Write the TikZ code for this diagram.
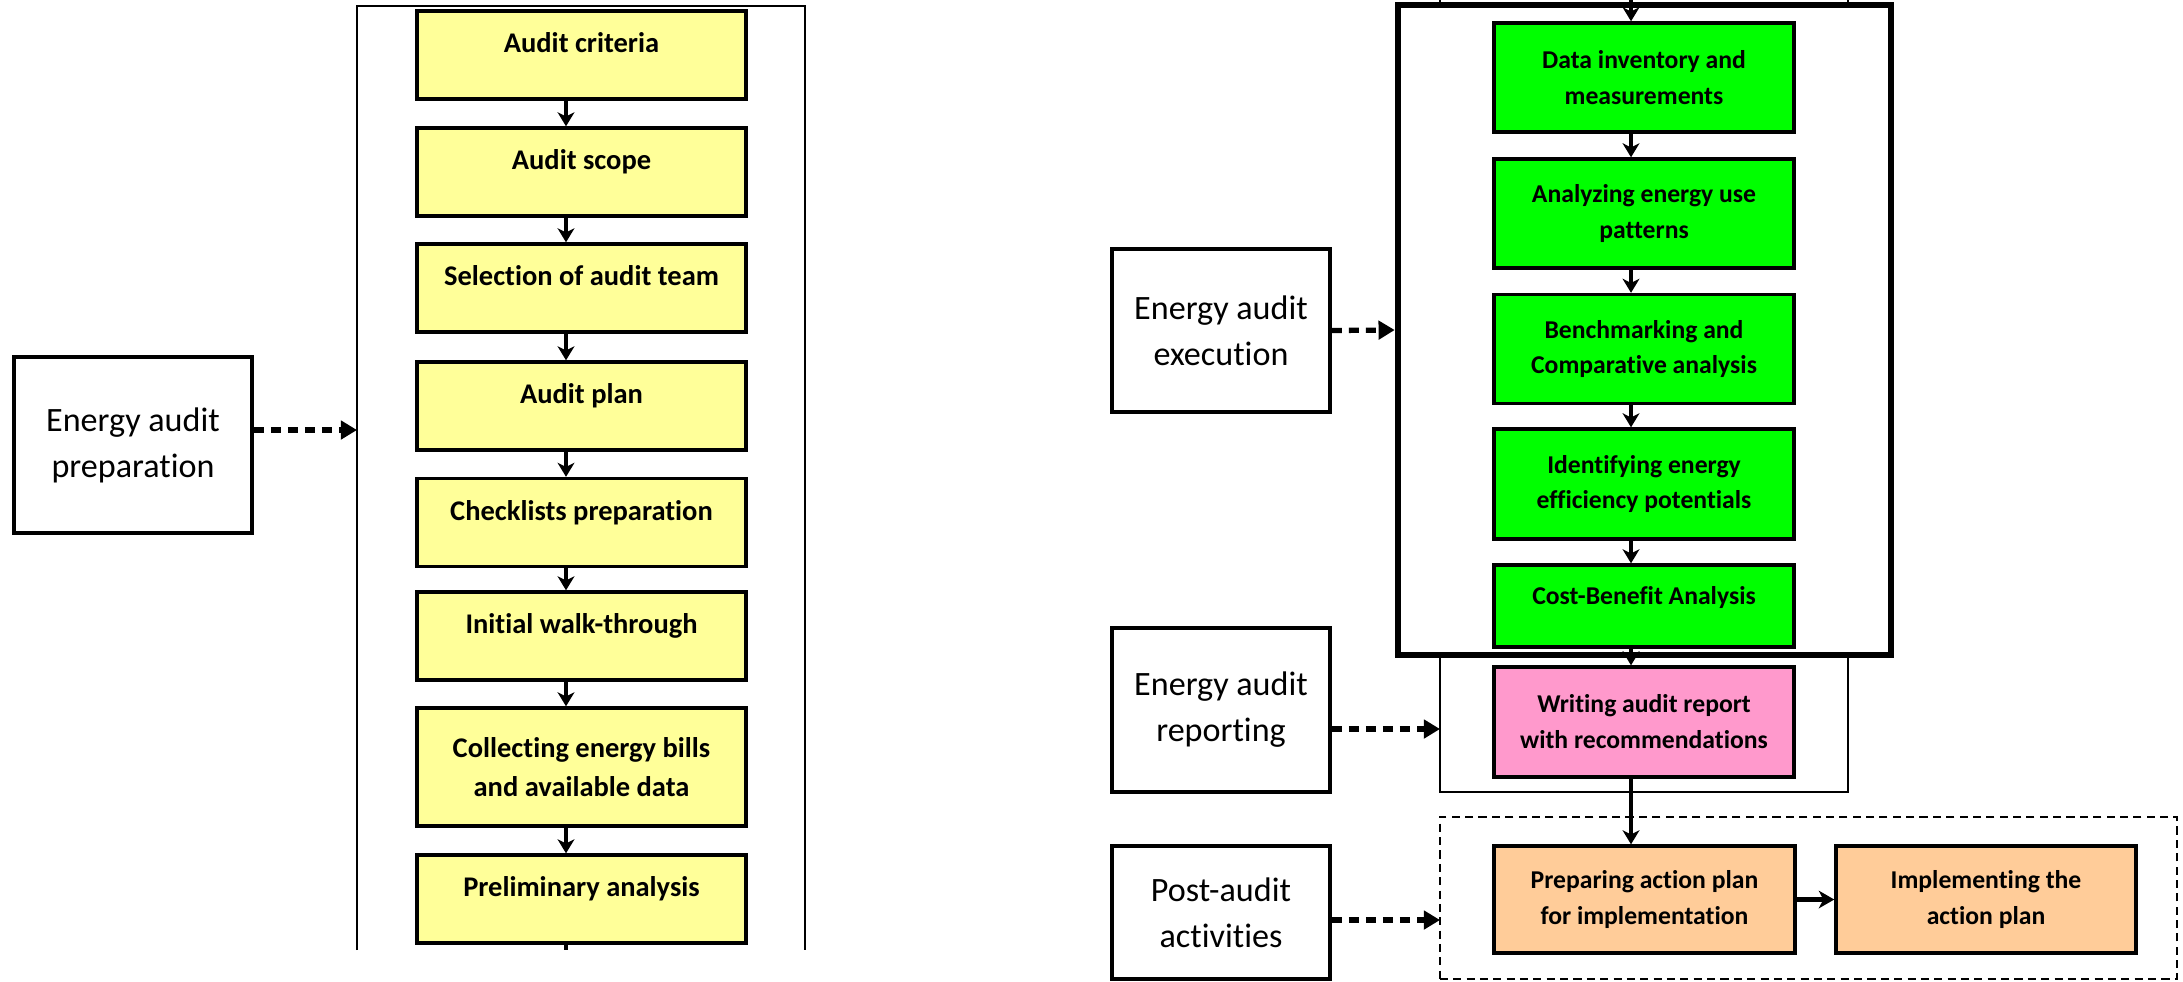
\documentclass[tikz,border=0pt]{standalone}
\usepackage{fontspec}
\setmainfont{Carlito}[RawFeature={-liga;-clig;-calt;-dlig}]
\usetikzlibrary{arrows.meta}
\definecolor{ylw}{HTML}{FFFF99}
\definecolor{grn}{HTML}{00FF00}
\definecolor{pnk}{HTML}{FF99CC}
\definecolor{org}{HTML}{FFCC99}
\begin{document}
\begin{tikzpicture}[x=0.01cm,y=-0.01cm,
  box/.style={draw=black, line width=0.95pt, align=center, inner sep=0pt},
  lbl/.style={box, fill=white, minimum width=2.18cm, font=\fontsize{9.7}{13.1}\selectfont},
  ybox/.style={box, fill=ylw, minimum width=3.29cm, minimum height=0.88cm, font=\fontsize{8.1}{11.1}\selectfont\bfseries},
  yone/.style={text height=4.9pt, text depth=6.1pt},
  gbox/.style={box, fill=grn, minimum width=3.0cm, minimum height=1.09cm, font=\fontsize{7.3}{10.2}\selectfont\bfseries},
  gone/.style={text height=4.4pt, text depth=5.5pt},
  pbox/.style={gbox, fill=pnk},
  obox/.style={gbox, fill=org, minimum height=1.07cm},
  thinframe/.style={draw=black, line width=0.65pt},
  thickframe/.style={draw=black, fill=white, line width=1.8pt, inner sep=0pt, minimum width=4.93cm, minimum height=6.5cm},
  dframe/.style={draw=black, line width=0.65pt, dash pattern=on 2.3pt off 1.5pt, inner sep=0pt, minimum width=7.37cm, minimum height=1.62cm},
  arr/.style={draw=black, line width=1pt, -{Stealth[length=4pt,width=4.8pt,inset=1.2pt]}},
  darr/.style={draw=black, line width=1.5pt, dash pattern=on 2.85pt off 2pt, -{Triangle[length=4.6pt,width=5.2pt]}},
  bigarr/.style={draw=black, line width=1.2pt, -{Stealth[length=4.4pt,width=5pt,inset=1.3pt]}}
]
\useasboundingbox (0,0) rectangle (2183,981);

% ---------------- left column ----------------
\node[lbl, minimum width=2.38cm, minimum height=1.76cm] (prep) at (133,445) {Energy audit\\preparation};
\draw[thinframe] (357,950) -- (357,6) -- (805,6) -- (805,950);
\coordinate (axL) at (566,0);
\coordinate (lend) at (566,950);
\coordinate (lin) at (357,430);

\node[ybox, yone] (y1) at (581.5,55) {Audit criteria};
\node[ybox, yone] (y2) at (581.5,172) {Audit scope};
\node[ybox, yone] (y3) at (581.5,288) {Selection of audit team};
\node[ybox, yone] (y4) at (581.5,406) {Audit plan};
\node[ybox, yone] (y5) at (581.5,522.5) {Checklists preparation};
\node[ybox, yone] (y6) at (581.5,636) {Initial walk-through};
\node[ybox, minimum height=1.18cm] (y7) at (581.5,767) {Collecting energy bills\\and available data};
\node[ybox, yone] (y8) at (581.5,899) {Preliminary analysis};

\draw[arr] (y1.south -| axL) -- (y2.north -| axL);
\draw[arr] (y2.south -| axL) -- (y3.north -| axL);
\draw[arr] (y3.south -| axL) -- (y4.north -| axL);
\draw[arr] (y4.south -| axL) -- (y5.north -| axL);
\draw[arr] (y5.south -| axL) -- (y6.north -| axL);
\draw[arr] (y6.south -| axL) -- (y7.north -| axL);
\draw[arr] (y7.south -| axL) -- (y8.north -| axL);
\draw[draw=black, line width=1pt] (y8.south -| axL) -- (lend);
\draw[darr] (prep.east |- lin) -- (lin);

% ---------------- right column ----------------
\node[lbl, minimum height=1.63cm] (exec) at (1221,330.5) {Energy audit\\execution};
\node[lbl, minimum height=1.64cm] (rep) at (1221,710) {Energy audit\\reporting};
\node[lbl, minimum height=1.33cm] (post) at (1221,912.5) {Post-audit\\activities};

\draw[thinframe] (1440,-20) rectangle (1848,792);
\node[thickframe] (xf) at (1644.5,330) {};
\node[dframe] (pf) at (1808.5,898) {};

\coordinate (axR) at (1631,0);
\coordinate (topin) at (1631,-10);
\coordinate (rin) at (1440,729);
\coordinate (pin) at (1440,920);

\node[gbox] (g1) at (1644,77.5) {Data inventory and\\measurements};
\node[gbox] (g2) at (1644,213.5) {Analyzing energy use\\patterns};
\node[gbox] (g3) at (1644,349) {Benchmarking and\\Comparative analysis};
\node[gbox, minimum height=1.10cm] (g4) at (1644,484) {Identifying energy\\efficiency potentials};
\node[gbox, gone, minimum height=0.82cm] (g5) at (1644,606) {Cost-Benefit Analysis};
\node[pbox, minimum height=1.10cm] (pk) at (1644,722) {Writing audit report\\with recommendations};
\node[obox, minimum width=3.01cm] (o1) at (1644.5,899.5) {Preparing action plan\\for implementation};
\node[obox] (o2) at (1986,899.5) {Implementing the\\action plan};

\draw[arr] (topin) -- (g1.north -| axR);
\draw[arr] (g1.south -| axR) -- (g2.north -| axR);
\draw[arr] (g2.south -| axR) -- (g3.north -| axR);
\draw[arr] (g3.south -| axR) -- (g4.north -| axR);
\draw[arr] (g4.south -| axR) -- (g5.north -| axR);
\draw[arr] (g5.south -| axR) -- (pk.north -| axR);
\draw[arr] (pk.south -| axR) -- (o1.north -| axR);
\draw[bigarr] (o1.east) -- (o2.west);

\draw[darr] (exec.east) -- (xf.west);
\draw[darr] (rep.east |- rin) -- (rin);
\draw[darr] (post.east |- pin) -- (pin);
\end{tikzpicture}
\end{document}
